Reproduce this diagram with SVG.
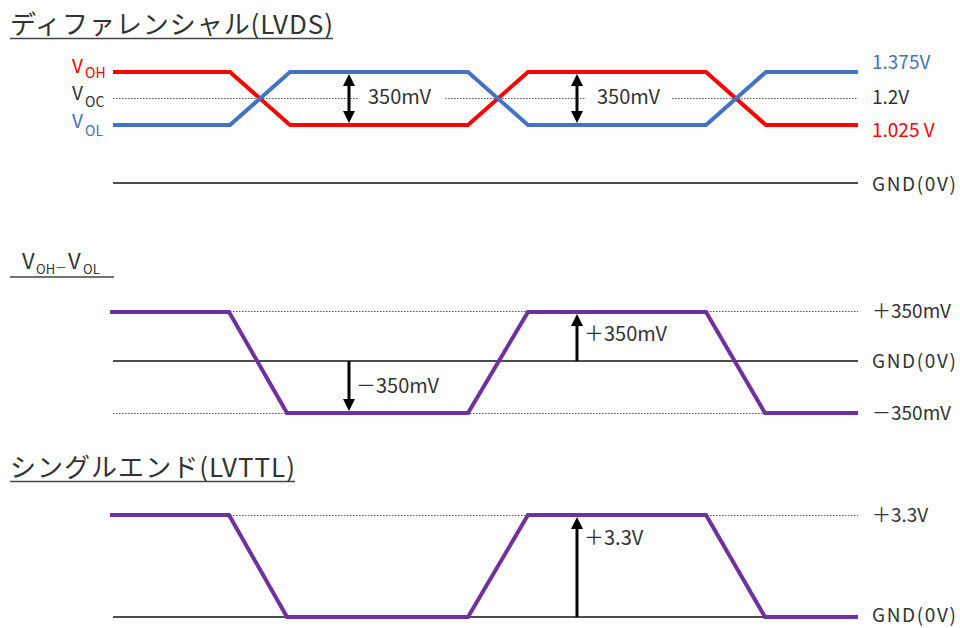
<svg xmlns="http://www.w3.org/2000/svg" width="960" height="628" viewBox="0 0 960 628">
<style>
text{font-family:"Noto Sans CJK JP","Noto Sans",sans-serif;fill:#333}
.title{font-size:26px}
.lbl{font-size:19px}
.al{font-size:20px}
.v{font-size:19px}
.sub{font-size:14px}
.red{fill:#FF0000}
.blue{fill:#4472C4}
.ul{stroke:#444;stroke-width:1.5}
.dot{stroke:#555;stroke-width:1.2;stroke-dasharray:1.5 1.5;fill:none}
.gnd{stroke:#111;stroke-width:1.3;fill:none}
.wr{stroke:#FF0000;stroke-width:4;fill:none;stroke-linejoin:miter}
.wb{stroke:#4472C4;stroke-width:4;fill:none}
.wp{stroke:#7030A0;stroke-width:4;fill:none}
.arr{stroke:#000;stroke-width:3}
</style>
<defs>
<marker id="ah" viewBox="0 0 12 12" markerUnits="userSpaceOnUse" markerWidth="12" markerHeight="12" refX="6" refY="6" orient="auto-start-reverse">
<path d="M0,0 L12,6 L0,12 z" fill="#000"/>
</marker>
</defs>

<g id="titles">
<text class="title" x="10" y="34" textLength="323" lengthAdjust="spacing">ディファレンシャル(LVDS)</text>
<line class="ul" x1="10" y1="38.5" x2="333" y2="38.5"/>
<text x="22" y="269" font-size="22">V<tspan font-size="13" x="36" y="274">OH</tspan><tspan font-size="12" x="55" y="272">－</tspan><tspan x="68" y="269" font-size="22">V</tspan><tspan font-size="13" x="83" y="274">OL</tspan></text>
<line class="ul" x1="10" y1="277" x2="114" y2="277"/>
<text class="title" x="10" y="477" textLength="285" lengthAdjust="spacing">シングルエンド(LVTTL)</text>
<line class="ul" x1="10" y1="481.5" x2="295" y2="481.5"/>
</g>

<g id="lvds">
<g id="lvds-labels">
<text class="v red" x="72" y="73">V<tspan class="sub" x="85" y="78">OH</tspan></text>
<text class="v" x="72" y="100">V<tspan class="sub" x="85" y="107">OC</tspan></text>
<text class="v blue" x="72" y="128">V<tspan class="sub" x="85" y="136">OL</tspan></text>
<text class="lbl blue" x="872" y="69">1.375V</text>
<text class="lbl" x="872" y="104">1.2V</text>
<text class="lbl red" x="872" y="137">1.025 V</text>
<text class="lbl" x="872" y="191" textLength="84" lengthAdjust="spacing">GND(0V)</text>
<text class="al" x="368" y="104">350mV</text>
<text class="al" x="597" y="104">350mV</text>
</g>
<g id="lvds-lines">
<path class="dot" d="M113,98.5 H358 M445,98.5 H585 M672,98.5 H858"/>
<line class="gnd" x1="113" y1="183" x2="858" y2="183"/>
<path class="wr" d="M113,72 H230 L290,125 H468 L528,72 H706 L766,125 H858"/>
<path class="wb" d="M113,125 H230 L290,72 H468 L528,125 H706 L766,72 H858"/>
</g>
</g>

<g id="diff">
<g id="diff-labels">
<text class="lbl" x="872" y="318">＋350mV</text>
<text class="lbl" x="872" y="368" textLength="84" lengthAdjust="spacing">GND(0V)</text>
<text class="lbl" x="872" y="420">－350mV</text>
<text class="al" x="356" y="393">－350mV</text>
<text class="al" x="584" y="341">＋350mV</text>
</g>
<g id="diff-lines">
<line class="dot" x1="113" y1="311.5" x2="858" y2="311.5"/>
<line class="dot" x1="113" y1="413.5" x2="858" y2="413.5"/>
<line class="gnd" x1="113" y1="361" x2="858" y2="361"/>
<path class="wp" d="M110,312 H229 L287,413 H468 L528,312 H706 L765,413 H858"/>
</g>
</g>

<g id="single">
<g id="single-labels">
<text class="lbl" x="872" y="522">＋3.3V</text>
<text class="lbl" x="872" y="622" textLength="84" lengthAdjust="spacing">GND(0V)</text>
<text class="al" x="584" y="545">＋3.3V</text>
</g>
<g id="single-lines">
<line class="dot" x1="113" y1="515.5" x2="858" y2="515.5"/>
<line class="gnd" x1="113" y1="617" x2="858" y2="617"/>
<path class="wp" d="M110,515 H229 L287,617 H468 L528,515 H706 L765,617 H858"/>
</g>
</g>

<g id="connectors">
<line class="arr" x1="349" y1="80" x2="349" y2="117" marker-start="url(#ah)" marker-end="url(#ah)"/>
<line class="arr" x1="577" y1="80" x2="577" y2="117" marker-start="url(#ah)" marker-end="url(#ah)"/>
<line class="arr" x1="349" y1="361" x2="349" y2="405" marker-end="url(#ah)"/>
<line class="arr" x1="577" y1="361" x2="577" y2="320" marker-end="url(#ah)"/>
<line class="arr" x1="577" y1="617" x2="577" y2="523" marker-end="url(#ah)"/>
</g>
</svg>
